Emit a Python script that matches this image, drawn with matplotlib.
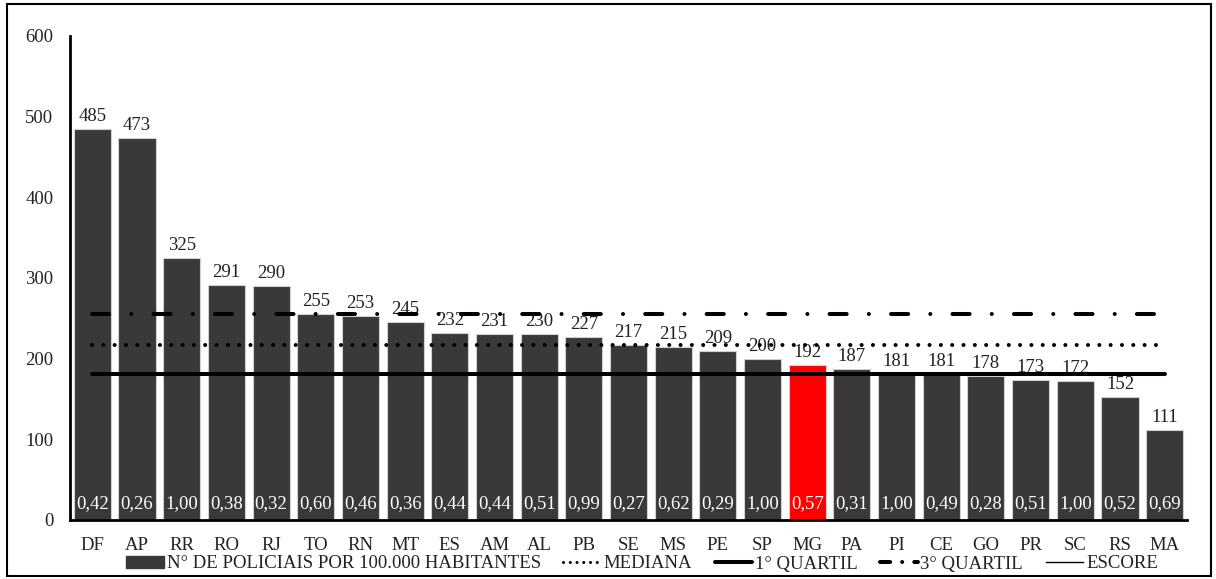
import matplotlib.pyplot as plt
from matplotlib.lines import Line2D
from matplotlib.patches import Patch, Rectangle

plt.rcParams["font.family"] = ["Liberation Serif", "DejaVu Serif"]

states = ["DF", "AP", "RR", "RO", "RJ", "TO", "RN", "MT", "ES", "AM", "AL", "PB", "SE",
          "MS", "PE", "SP", "MG", "PA", "PI", "CE", "GO", "PR", "SC", "RS", "MA"]
policiais = [485, 473, 325, 291, 290, 255, 253, 245, 232, 231, 230, 227, 217,
             215, 209, 200, 192, 187, 181, 181, 178, 173, 172, 152, 111]
escore = ["0,42", "0,26", "1,00", "0,38", "0,32", "0,60", "0,46", "0,36", "0,44", "0,44",
          "0,51", "0,99", "0,27", "0,62", "0,29", "1,00", "0,57", "0,31", "1,00", "0,49",
          "0,28", "0,51", "1,00", "0,52", "0,69"]
mediana = 217
quartil_1 = 181
quartil_3 = 255

W, H = 1216, 579
FS = 13.5
fig = plt.figure(figsize=(W / 100, H / 100), dpi=100)
ax = fig.add_axes([70 / W, (H - 520) / H, (1187 - 70) / W, (520 - 36) / H])

x = list(range(len(states)))
colors = ["#ff0000" if s == "MG" else "#3a3938" for s in states]
ax.bar(x, policiais, width=0.83, color=colors, edgecolor="#d0d0d0", linewidth=0.8, zorder=2)

for xi, v, e in zip(x, policiais, escore):
    ax.text(xi, v + 5, str(v), ha="center", va="bottom", fontsize=FS, color="#222222", zorder=3)
    ax.text(xi, 10, e, ha="center", va="bottom", fontsize=FS, color="white", zorder=3)

# linhas de referencia (mediana e quartis)
lw = 2.9
ax.plot([x[0], x[-1]], [mediana, mediana], color="black", lw=lw,
        dashes=(0.01, 2.8), dash_capstyle="round", zorder=4)
ax.plot([x[0], x[-1]], [quartil_1, quartil_1], color="black", lw=lw,
        solid_capstyle="round", zorder=4)
ax.plot([x[0], x[-1]], [quartil_3, quartil_3], color="black", lw=lw,
        dashes=(4.25, 5.5, 0.01, 5.5), dash_capstyle="round", zorder=4)

ax.set_xlim(-0.5, 24.5)
ax.set_ylim(0, 600)
ax.set_yticks(range(0, 601, 100))
ax.set_xticks(x)
ax.set_xticklabels(states)
ax.tick_params(axis="both", length=0, labelsize=FS, labelcolor="#222222")
ax.tick_params(axis="x", pad=12)
ax.tick_params(axis="y", pad=12)
for s in ["top", "right"]:
    ax.spines[s].set_visible(False)
ax.spines["left"].set_linewidth(2)
ax.spines["bottom"].set_linewidth(2)

handles = [
    Patch(facecolor="#3a3938", edgecolor="#3a3938"),
    Line2D([], [], color="black", lw=2.2, dashes=(0.01, 2.2), dash_capstyle="round"),
    Line2D([], [], color="black", lw=2.9, solid_capstyle="round"),
    Line2D([], [], color="black", lw=2.9, dashes=(2.5, 3, 0.01, 3), dash_capstyle="round"),
    Line2D([], [], color="black", lw=1),
]
labels = ["N° DE POLICIAIS POR 100.000 HABITANTES", "MEDIANA", "1° QUARTIL", "3° QUARTIL", "ESCORE"]
fig.legend(handles, labels, loc="center", bbox_to_anchor=(0.528, (H - 564) / H), ncol=5,
           frameon=False, fontsize=FS, handlelength=2.0, handleheight=0.6,
           handletextpad=0.15, columnspacing=1.2, labelcolor="#222222",
           borderpad=0, borderaxespad=0)

fig.patches.append(Rectangle((7 / W, 3 / H), (1211 - 7) / W, (575 - 3) / H,
                             transform=fig.transFigure, fill=False, edgecolor="black", lw=1.5))

fig.savefig("out.png", dpi=100)
